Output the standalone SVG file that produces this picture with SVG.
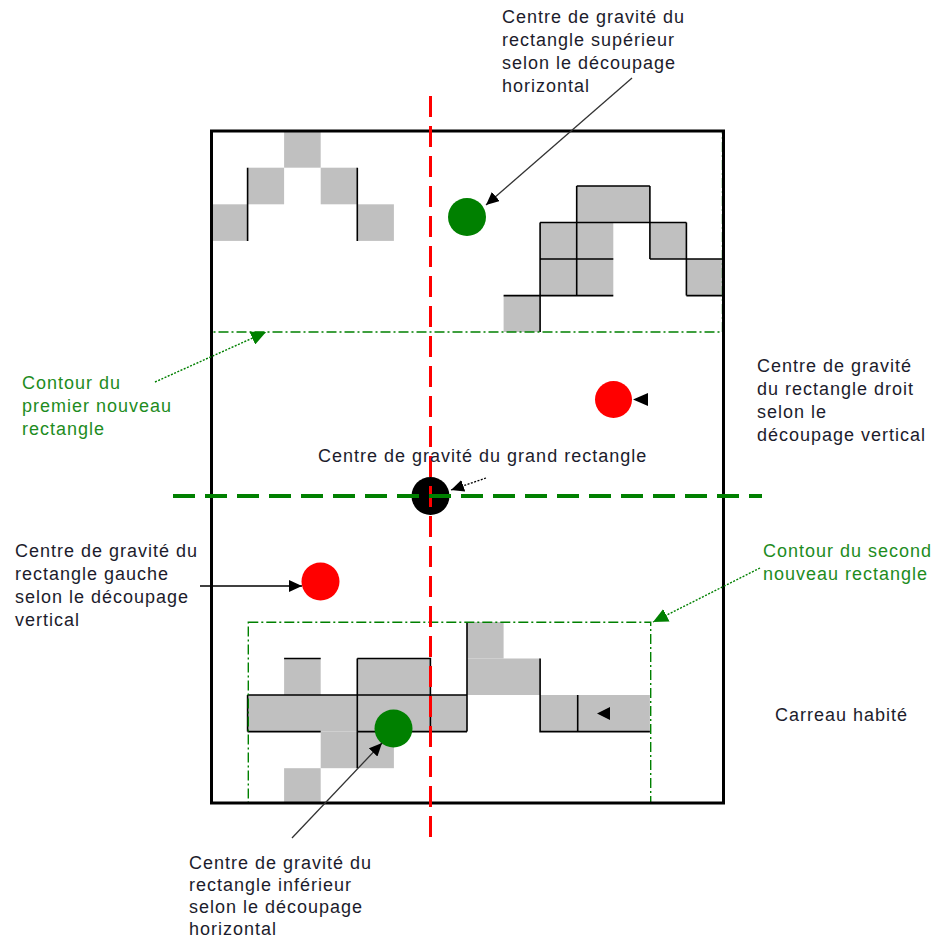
<svg xmlns="http://www.w3.org/2000/svg" width="935" height="941" viewBox="0 0 935 941">
<style>
.cell{fill:#c0c0c0;stroke:none}
.edge{stroke:#000;stroke-width:1.6;fill:none}
.contour{fill:none;stroke:#008000;stroke-width:1.4;stroke-dasharray:10 3 2 3}
.t{font-family:"Liberation Sans",Arial,sans-serif;font-size:18px;letter-spacing:1px;fill:#1c1c2c}
.g{font-family:"Liberation Sans",Arial,sans-serif;font-size:18px;letter-spacing:1px;fill:#1e8c1e}
</style>
<defs>
<marker id="ah" markerUnits="userSpaceOnUse" markerWidth="14" markerHeight="12" refX="13" refY="6" orient="auto"><path d="M0,0 L13,6 L0,12 z" fill="#000"/></marker>
<marker id="ahg" markerUnits="userSpaceOnUse" markerWidth="16" markerHeight="14" refX="15" refY="7" orient="auto"><path d="M0,0 L15,7 L0,14 z" fill="#008000"/></marker>
</defs>
<rect width="935" height="941" fill="#fff"/>
<g id="cells-top-left">
<rect class="cell" x="284.1" y="131" width="36.6" height="36.7"/>
<rect class="cell" x="247.6" y="167.7" width="36.5" height="36.6"/>
<rect class="cell" x="320.7" y="167.7" width="36.6" height="36.6"/>
<rect class="cell" x="211" y="204.3" width="36.6" height="36.6"/>
<rect class="cell" x="357.3" y="204.3" width="36.6" height="36.6"/>
<path class="edge" d="M247.6 167.7V240.9M357.3 167.7V240.9"/>
</g>
<g id="cells-top-right">
<rect class="cell" x="576.7" y="186" width="73.2" height="36.5"/>
<rect class="cell" x="540.1" y="222.5" width="73.2" height="73.1"/>
<rect class="cell" x="649.9" y="222.5" width="36.5" height="36.5"/>
<rect class="cell" x="686.4" y="259" width="36.6" height="36.6"/>
<rect class="cell" x="503.6" y="295.6" width="36.5" height="36.4"/>
<path class="edge" d="M576.7 186H649.9M540.1 222.5H686.4M540.1 222.5V332M576.7 186V295.6M649.9 186V259M540.1 259H613.3M649.9 259H723M686.4 222.5V295.6M503.6 295.6H613.3M686.4 295.6H723"/>
</g>
<g id="cells-bottom">
<rect class="cell" x="467" y="622" width="36.6" height="36.5"/>
<rect class="cell" x="284.1" y="658.5" width="36.6" height="36.5"/>
<rect class="cell" x="357.3" y="658.5" width="73.1" height="36.5"/>
<rect class="cell" x="467" y="658.5" width="73.1" height="36.5"/>
<rect class="cell" x="247.6" y="695" width="219.4" height="36.6"/>
<rect class="cell" x="540.1" y="695" width="109.8" height="36.6"/>
<rect class="cell" x="320.7" y="731.6" width="73.2" height="36.6"/>
<rect class="cell" x="284.1" y="768.2" width="36.6" height="34.8"/>
<path class="edge" d="M284.1 658.5H320.7M357.3 658.5H430.4V695M357.3 658.5V768.2M247.6 695H467M247.6 695V731.6M247.6 731.6H320.7M357.3 731.6H467M430.4 695V731.6M467 622V731.6M540.1 658.5V731.6H649.9M577.7 695V731.6"/>
<path d="M597 713.5L610 707V720z" fill="#000"/>
</g>
<g id="contour-1"><rect class="contour" x="211.5" y="131" width="511" height="201"/></g>
<g id="contour-2"><rect class="contour" x="248.3" y="622.3" width="402.4" height="180.7"/></g>
<g id="main-rectangle">
<rect x="211.5" y="131" width="512" height="672" fill="none" stroke="#000" stroke-width="3"/>
</g>
<g id="center-big"><circle cx="430.5" cy="496" r="19" fill="#000"/></g>
<g id="axes">
<line x1="430.5" y1="96" x2="430.5" y2="843" stroke="#ff0000" stroke-width="3" stroke-dasharray="21 9"/>
<line x1="173" y1="496" x2="762" y2="496" stroke="#008000" stroke-width="4" stroke-dasharray="22 10"/>
</g>
<g id="center-top"><circle cx="467" cy="217" r="19" fill="#008000"/></g>
<g id="center-right"><circle cx="613.5" cy="399.5" r="18.5" fill="#ff0000"/><path d="M633 399.5L648 393V406z" fill="#000"/></g>
<g id="center-left"><circle cx="320.5" cy="581.5" r="19" fill="#ff0000"/></g>
<g id="center-bottom"><circle cx="393.5" cy="728.5" r="19" fill="#008000"/></g>
<g id="connectors">
<line x1="632" y1="78" x2="486" y2="205" stroke="#333" stroke-width="1.3" marker-end="url(#ah)"/>
<line x1="200" y1="586" x2="302" y2="586" stroke="#000" stroke-width="1.6" marker-end="url(#ah)"/>
<line x1="292" y1="838" x2="382" y2="743" stroke="#333" stroke-width="1.3" marker-end="url(#ah)"/>
<line x1="486" y1="478" x2="451" y2="490" stroke="#000" stroke-width="1.3" stroke-dasharray="2 1.5" marker-end="url(#ah)"/>
<line x1="155" y1="382" x2="266" y2="332" stroke="#008000" stroke-width="1.4" stroke-dasharray="2 1.5" marker-end="url(#ahg)"/>
<line x1="760" y1="568" x2="653" y2="622" stroke="#008000" stroke-width="1.4" stroke-dasharray="2 1.5" marker-end="url(#ahg)"/>
</g>
<g id="labels">
<text class="t"><tspan x="502" y="23">Centre de gravité du</tspan><tspan x="502" y="46">rectangle supérieur</tspan><tspan x="502" y="69">selon le découpage</tspan><tspan x="502" y="92">horizontal</tspan></text>
<text class="t"><tspan x="757" y="372">Centre de gravité</tspan><tspan x="757" y="395">du rectangle droit</tspan><tspan x="757" y="418">selon le</tspan><tspan x="757" y="441">découpage vertical</tspan></text>
<text class="t" x="318" y="462">Centre de gravité du grand rectangle</text>
<text class="g"><tspan x="22" y="389">Contour du</tspan><tspan x="22" y="412">premier nouveau</tspan><tspan x="22" y="435">rectangle</tspan></text>
<text class="g"><tspan x="763" y="557">Contour du second</tspan><tspan x="763" y="580">nouveau rectangle</tspan></text>
<text class="t"><tspan x="15" y="557">Centre de gravité du</tspan><tspan x="15" y="580">rectangle gauche</tspan><tspan x="15" y="603">selon le découpage</tspan><tspan x="15" y="626">vertical</tspan></text>
<text class="t" x="775" y="721">Carreau habité</text>
<text class="t"><tspan x="189" y="869">Centre de gravité du</tspan><tspan x="189" y="891">rectangle inférieur</tspan><tspan x="189" y="913">selon le découpage</tspan><tspan x="189" y="935">horizontal</tspan></text>
</g>
</svg>
